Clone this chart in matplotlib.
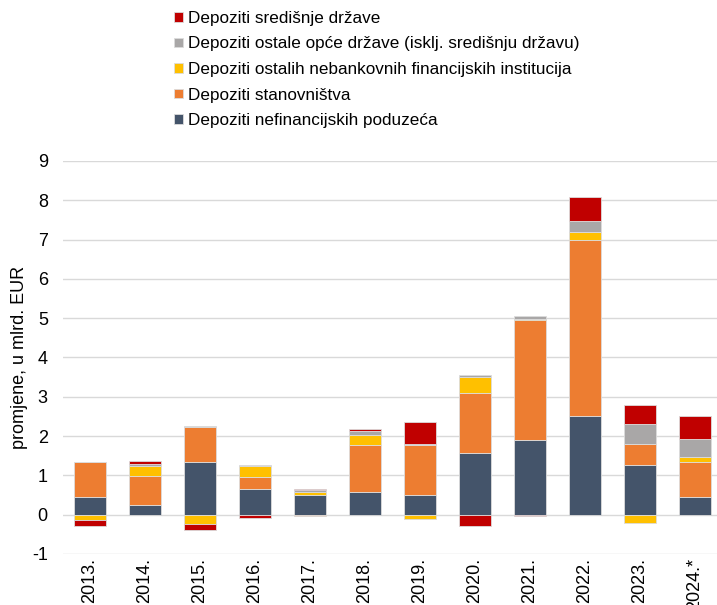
import numpy as np
import matplotlib
matplotlib.use("Agg")
import matplotlib.pyplot as plt

plt.rcParams['font.family'] = ['Liberation Sans', 'DejaVu Sans']
plt.rcParams['axes.unicode_minus'] = False

years = ["2013.", "2014.", "2015.", "2016.", "2017.", "2018.", "2019.",
         "2020.", "2021.", "2022.", "2023.", "2024.*"]

# changes, bn EUR
poduzeca = [0.45, 0.25, 1.33, 0.66, 0.49, 0.58, 0.49, 1.58, 1.90, 2.51, 1.27, 0.44]
stanovnistvo = [0.88, 0.74, 0.90, 0.30, -0.03, 1.19, 1.28, 1.52, 3.06, 4.49, 0.54, 0.89]
nbfi = [-0.14, 0.24, -0.23, 0.29, 0.10, 0.25, -0.10, 0.41, 0.02, 0.20, -0.22, 0.15]
opca_drzava = [0.00, 0.06, 0.02, 0.02, 0.03, 0.11, 0.04, 0.04, 0.07, 0.28, 0.49, 0.45]
sred_drzava = [-0.16, 0.07, -0.16, -0.09, 0.03, 0.04, 0.54, -0.30, -0.03, 0.61, 0.49, 0.58]

series = [
    ("Depoziti nefinancijskih poduzeća", poduzeca, "#44546A"),
    ("Depoziti stanovništva", stanovnistvo, "#ED7D31"),
    ("Depoziti ostalih nebankovnih financijskih institucija", nbfi, "#FFC000"),
    ("Depoziti ostale opće države (isklj. središnju državu)", opca_drzava, "#A9A7A7"),
    ("Depoziti središnje države", sred_drzava, "#C00000"),
]

fig = plt.figure(figsize=(7.17, 6.05), dpi=100)
ax = fig.add_axes([0.088, 0.0843, 0.912, 0.6496])

x = np.arange(len(years))
pos_bot = np.zeros(len(years))
neg_bot = np.zeros(len(years))
handles = []
for name, vals, col in series:
    v = np.array(vals)
    bottom = np.where(v >= 0, pos_bot, neg_bot)
    b = ax.bar(x, v, 0.58, bottom=bottom, color=col, edgecolor="#dcdcdc",
               linewidth=0.6, label=name, zorder=3)
    handles.append(b)
    pos_bot += np.where(v >= 0, v, 0)
    neg_bot += np.where(v < 0, v, 0)

ax.set_ylim(-1, 9)
ax.set_xlim(-0.49, 11.4)
ax.set_yticks(range(-1, 10))
ax.yaxis.grid(True, color="#d9d9d9", linewidth=1, zorder=0)
ax.set_axisbelow(True)
for s in ax.spines.values():
    s.set_visible(False)
ax.tick_params(length=0, labelsize=13)
ax.tick_params(axis="y", pad=11)
ax.tick_params(axis="x", pad=3)
ax.set_xticks(x)
ax.set_xticklabels(years, rotation=90)
ax.set_ylabel("promjene, u mlrd. EUR", fontsize=13, labelpad=2.5)

fig.legend(handles[::-1], [s[0] for s in series][::-1], loc="upper left",
           bbox_to_anchor=(0.243, 0.982), frameon=False, fontsize=12.3,
           handlelength=0.5, handleheight=0.5, handletextpad=0.3,
           labelspacing=0.62, borderaxespad=0, borderpad=0)

fig.savefig("out.png", dpi=100)
